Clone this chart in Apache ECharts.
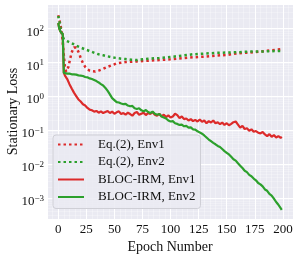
<!DOCTYPE html>
<html><head><meta charset="utf-8">
<script src="https://cdn.jsdelivr.net/npm/echarts@6/dist/echarts.min.js"></script>
<style>html,body{margin:0;padding:0;background:#fff}#c{width:297px;height:255px}</style>
</head><body><div id="c"></div>
<script>
const FONT = '"Liberation Serif", "Times New Roman", serif';
const seriesNames = ['Eq.(2), Env1', 'Eq.(2), Env2', 'BLOC-IRM, Env1', 'BLOC-IRM, Env2'];
const xAxisTitle = 'Epoch Number';
const yAxisTitle = 'Stationary Loss';

// Eq.(2) curves (log10 of loss)
const dottedEpochs = [0,1,2,3,4,5,6,7,8,9,10,11,12,13,14,15,16,17,18,19,20,22,24,26,28,30,33,36,40,44,48,52,56,60,65,70,75,80,90,100,110,120,130,140,150,160,170,180,190,199];
const eqEnv1Log10 = [2.38,2.25,2.1,1.9,1.6,1.2,0.85,0.72,0.72,0.85,1.0,1.15,1.28,1.37,1.43,1.45,1.43,1.38,1.3,1.22,1.12,0.97,0.86,0.79,0.75,0.73,0.72,0.75,0.8,0.86,0.91,0.96,0.98,1.0,1.01,1.02,1.03,1.04,1.06,1.08,1.11,1.14,1.16,1.19,1.21,1.26,1.28,1.31,1.35,1.38];
const eqEnv2Log10 = [2.36,2.2,2.02,1.87,1.75,1.68,1.65,1.63,1.62,1.6,1.58,1.57,1.55,1.54,1.52,1.5,1.49,1.47,1.46,1.44,1.43,1.4,1.37,1.35,1.32,1.3,1.26,1.23,1.2,1.17,1.14,1.12,1.1,1.09,1.07,1.06,1.08,1.1,1.12,1.15,1.19,1.23,1.25,1.27,1.28,1.29,1.31,1.31,1.32,1.33];

// BLOC-IRM curves (log10 of loss)
const solidEpochs = [0,1,2,3,4,5,6,8,10,12,14,16,18,20,22,24,26,28,30,32,34,36,38,40,42,44,46,48,50,52,54,56,58,60,62,64,66,68,70,72,74,76,78,80,82,84,86,88,90,92,94,96,98,100,102,104,106,108,110,112,114,116,118,120,122,124,126,128,130,132,134,136,138,140,142,144,146,148,150,152,154,156,158,160,162,164,166,168,170,172,174,176,178,180,182,184,186,188,190,192,194,196,198,199];
const blocEnv1Log10 = [2.15,1.98,1.9,1.85,1.83,0.68,
 0.6,0.5,0.35,0.22,0.1,0.0,-0.1,-0.16,-0.24,-0.28,
 -0.35,-0.4,-0.42,-0.46,-0.44,-0.49,-0.45,-0.5,-0.47,-0.44,
 -0.5,-0.46,-0.52,-0.48,-0.45,-0.53,-0.5,-0.55,-0.49,-0.53,
 -0.58,-0.5,-0.47,-0.55,-0.52,-0.49,-0.56,-0.5,-0.53,-0.47,
 -0.55,-0.58,-0.52,-0.6,-0.55,-0.62,-0.57,-0.63,-0.6,-0.52,
 -0.56,-0.65,-0.6,-0.68,-0.66,-0.72,-0.68,-0.74,-0.7,-0.75,
 -0.69,-0.76,-0.72,-0.8,-0.74,-0.78,-0.72,-0.8,-0.77,-0.83,
 -0.78,-0.85,-0.8,-0.86,-0.82,-0.77,-0.75,-0.84,-0.93,-0.88,
 -0.97,-0.95,-1.02,-0.98,-1.05,-1.03,-1.08,-1.1,-1.06,-1.13,
 -1.18,-1.12,-1.2,-1.15,-1.22,-1.18,-1.23,
 -1.2];
const blocEnv2Log10 = [2.15,1.98,1.9,1.85,1.83,0.68,
 0.67,0.66,0.66,0.64,0.64,0.63,0.61,0.6,0.59,0.56,
 0.55,0.52,0.5,0.47,0.44,0.4,0.35,0.31,0.24,0.15,
 0.05,-0.06,-0.12,-0.18,-0.19,-0.22,-0.24,-0.23,-0.28,-0.3,
 -0.29,-0.36,-0.38,-0.36,-0.42,-0.45,-0.41,-0.47,-0.5,-0.46,
 -0.52,-0.55,-0.53,-0.6,-0.63,-0.66,-0.72,-0.75,-0.74,-0.8,
 -0.82,-0.85,-0.84,-0.89,-0.88,-0.93,-0.92,-0.98,-0.99,-1.04,
 -1.07,-1.11,-1.16,-1.22,-1.28,-1.33,-1.38,-1.42,-1.47,-1.5,
 -1.56,-1.62,-1.67,-1.72,-1.79,-1.86,-1.9,-1.98,-2.05,-2.12,
 -2.2,-2.24,-2.32,-2.36,-2.43,-2.48,-2.56,-2.6,-2.66,-2.75,
 -2.79,-2.88,-2.93,-3.02,-3.12,-3.2,-3.3,
 -3.35];

const RED = '#dc2a2a', GREEN = '#2ca02c';

function pairs(xs, logs) { return xs.map((x, i) => [x, Math.pow(10, logs[i])]); }

function yLabel(v) {
  const e = Math.log10(v);
  const r = Math.round(e);
  if (Math.abs(e - r) > 1e-6) return '';
  return '{b|10}{s|' + (r < 0 ? '\u2212' + (-r) : r) + '}';
}

const chart = echarts.init(document.getElementById('c'), null, { renderer: 'canvas' });
const dotted = [2.5, 3];
chart.setOption({
  animation: false,
  backgroundColor: '#ffffff',
  textStyle: { fontFamily: FONT },
  grid: { left: 47, right: 4, top: 4, bottom: 36, containLabel: false, outerBoundsMode: 'none',
          show: true, backgroundColor: '#EAEAF2', borderWidth: 0 },
  legend: {
    orient: 'vertical', left: 53, top: 135,
    data: seriesNames,
    itemWidth: 26, itemHeight: 14, itemGap: 4.5,
    padding: [3, 5, 5, 4],
    itemStyle: { color: 'rgba(0,0,0,0)', borderWidth: 0, opacity: 0 },
    backgroundColor: 'rgba(234,234,242,0.85)',
    borderColor: '#cfcfd6', borderWidth: 1, borderRadius: 3,
    textStyle: { fontFamily: FONT, fontSize: 13, color: '#111', padding: [0, 0, 0, 9] }
  },
  xAxis: {
    type: 'value', min: -10, max: 209, minInterval: 25, maxInterval: 25,
    name: xAxisTitle, nameLocation: 'middle', nameGap: 21, nameMoveOverlap: false,
    nameTextStyle: { fontFamily: FONT, fontSize: 14, color: '#111' },
    axisLine: { show: false }, axisTick: { show: false },
    axisLabel: { fontFamily: FONT, fontSize: 13, color: '#111', margin: 4, showMinLabel: false, showMaxLabel: false },
    splitLine: { show: true, lineStyle: { color: '#ffffff', width: 1 } },
    minorTick: { show: false, splitNumber: 5 },
    minorSplitLine: { show: true, lineStyle: { color: 'rgba(255,255,255,0.5)', width: 0.6 } }
  },
  yAxis: {
    type: 'log', logBase: 10, min: Math.pow(10, -3.62), max: Math.pow(10, 2.71),
    name: yAxisTitle, nameLocation: 'middle', nameGap: 27, nameRotate: 90, nameMoveOverlap: false,
    nameTextStyle: { fontFamily: FONT, fontSize: 14, color: '#111' },
    axisLine: { show: false }, axisTick: { show: false },
    axisLabel: {
      fontFamily: FONT, color: '#111', margin: 3, showMinLabel: false, showMaxLabel: false,
      formatter: yLabel,
      rich: {
        b: { fontFamily: FONT, fontSize: 13, color: '#111', lineHeight: 13, padding: [8, 0, 0, 0] },
        s: { fontFamily: FONT, fontSize: 9, color: '#111', lineHeight: 9, verticalAlign: 'top', padding: [3, 0, 0, 0] }
      }
    },
    splitLine: { show: true, lineStyle: { color: '#ffffff', width: 1 } },
    minorTick: { show: false, splitNumber: 9 },
    minorSplitLine: { show: true, lineStyle: { color: 'rgba(255,255,255,0.45)', width: 0.6 } }
  },
  series: [
    { name: seriesNames[0], type: 'line', data: pairs(dottedEpochs, eqEnv1Log10), symbol: 'none', showSymbol: false,
      lineStyle: { color: RED, width: 2.5, type: dotted }, itemStyle: { color: RED }, z: 3 },
    { name: seriesNames[1], type: 'line', data: pairs(dottedEpochs, eqEnv2Log10), symbol: 'none', showSymbol: false,
      lineStyle: { color: GREEN, width: 2.5, type: dotted }, itemStyle: { color: GREEN }, z: 4 },
    { name: seriesNames[2], type: 'line', data: pairs(solidEpochs, blocEnv1Log10), symbol: 'none', showSymbol: false,
      lineStyle: { color: RED, width: 2.2 }, itemStyle: { color: RED }, z: 5 },
    { name: seriesNames[3], type: 'line', data: pairs(solidEpochs, blocEnv2Log10), symbol: 'none', showSymbol: false,
      lineStyle: { color: GREEN, width: 2.2 }, itemStyle: { color: GREEN }, z: 6 }
  ]
});
</script></body></html>
